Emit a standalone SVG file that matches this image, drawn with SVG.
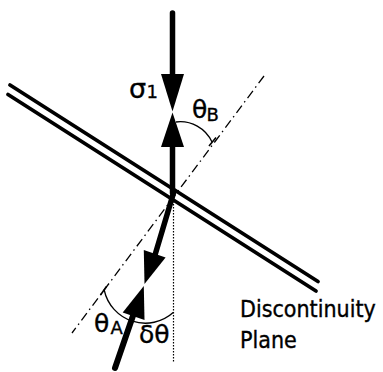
<svg xmlns="http://www.w3.org/2000/svg" width="383" height="372" viewBox="0 0 383 372">
<style>
.plane{stroke:#000;stroke-width:3.8;stroke-linecap:round;fill:none}
.shaft{stroke:#000;stroke-width:5.5;stroke-linecap:round;fill:none}
.head{fill:#000;stroke:none}
.normal{stroke:#000;stroke-width:1.3;stroke-dasharray:9 4 1.5 4;fill:none}
.vert{stroke:#000;stroke-width:1.2;stroke-dasharray:1.5 1.5;fill:none}
.arc{stroke:#000;stroke-width:1.3;fill:none}
.tick{stroke:#000;stroke-width:1.6;fill:none}
.lbl{font-family:"DejaVu Sans","Liberation Sans",sans-serif;fill:#000;stroke:#000;stroke-width:0.35}
.big{font-size:25px}
.sub{font-size:18px}
.txt{font-family:"DejaVu Sans Condensed","DejaVu Sans",sans-serif;font-size:23px}
</style>
<rect width="383" height="372" fill="#fff"/>
<g id="plane">
<line class="plane" x1="10" y1="85" x2="318" y2="281.5"/>
<line class="plane" x1="8" y1="94.5" x2="316" y2="291"/>
</g>
<g id="connectors">
<line class="normal" x1="264" y1="76" x2="72" y2="333"/>
<line class="vert" x1="173.5" y1="195" x2="173.5" y2="363"/>
<g id="sigma-top">
<line class="shaft" x1="172.5" y1="13" x2="172.5" y2="76"/>
<polygon class="head" points="161,74 184,74 172.5,111.5"/>
<polygon class="head" points="161,147 184,147 172.5,112.5"/>
<line class="shaft" x1="172.5" y1="145" x2="172.5" y2="193"/>
</g>
<g id="sigma-bottom">
<line class="shaft" x1="173.5" y1="193" x2="155" y2="255"/>
<polygon class="head" points="143.8,250 165.6,257.4 144.5,284"/>
<polygon class="head" points="122.7,312.6 144.5,320 143.8,286"/>
<line class="shaft" x1="133.6" y1="314" x2="115" y2="368" style="stroke-width:6"/>
</g>
<path class="arc" d="M176,122 A35,35 0 0 1 212,142"/>
<line class="tick" x1="209" y1="146" x2="216" y2="137.5"/>
<path class="arc" d="M104.2,290 A42,42 0 0 0 173.5,312.3"/>
<line class="tick" x1="100.5" y1="295" x2="106.5" y2="286.5"/>
</g>
<g id="labels">
<text class="lbl" x="129" y="98" style="font-size:27px">σ</text><text class="lbl sub" x="146.5" y="98">1</text>
<text class="lbl big" x="192" y="118">θ</text><text class="lbl sub" x="206.5" y="121">B</text>
<text class="lbl big" x="94" y="332">θ</text><text class="lbl sub" x="110.5" y="334">A</text>
<text class="lbl big" x="139" y="343">δθ</text>
<text class="lbl txt" x="240" y="317">Discontinuity</text>
<text class="lbl txt" x="240" y="348">Plane</text>
</g>
</svg>
